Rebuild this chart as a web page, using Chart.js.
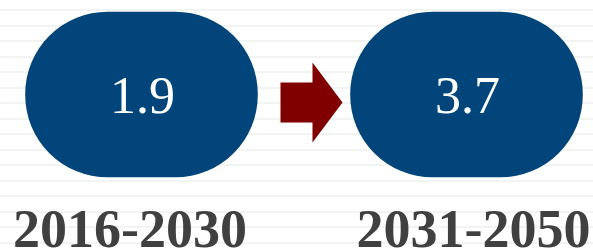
<!DOCTYPE html>
<html>
<head>
<meta charset="utf-8">
<script src="https://cdn.jsdelivr.net/npm/chart.js@4"></script>
<style>
  html, body { margin: 0; padding: 0; background: #ffffff; }
  canvas { display: block; }
</style>
</head>
<body>
<canvas id="growth" width="593" height="249"></canvas>
<script>
  // data
  const periods = ['2016-2030', '2031-2050']
  const rates = [1.9, 3.7]

  // pill extent on the (pixel-like, reversed) y scale
  const pillRange = [17.5, 182.5]
  // nudges for the period labels, relative to pill centres
  const labelShift = [-11.5, 7]

  const blue = '#02457a'
  const arrowRed = '#800000'

  const pillText = {
    id: 'pillText',
    afterDatasetsDraw(chart) {
      const ctx = chart.ctx
      const bars = chart.getDatasetMeta(0).data
      ctx.save()

      // arrow between the two pills
      const a = bars[0], b = bars[1]
      const gapL = a.x + a.width / 2
      const gapR = b.x - b.width / 2
      const midY = (a.y + a.base) / 2 + 8
      ctx.fillStyle = arrowRed
      ctx.beginPath()
      ctx.moveTo(gapL + 23, midY - 20)
      ctx.lineTo(gapL + 55, midY - 20)
      ctx.lineTo(gapL + 55, midY - 40)
      ctx.lineTo(gapR - 8, midY)
      ctx.lineTo(gapL + 55, midY + 40)
      ctx.lineTo(gapL + 55, midY + 20)
      ctx.lineTo(gapL + 23, midY + 20)
      ctx.closePath()
      ctx.fill()

      ctx.textAlign = 'center'
      ctx.textBaseline = 'alphabetic'
      bars.forEach((bar, i) => {
        ctx.fillStyle = '#ffffff'
        ctx.font = '52px "Liberation Serif"'
        ctx.fillText(rates[i].toFixed(1), bar.x + 1, (bar.y + bar.base) / 2 + 18.5)

        ctx.fillStyle = '#404040'
        ctx.font = 'bold 54px "Liberation Serif"'
        ctx.fillText(periods[i], bar.x + labelShift[i], chart.chartArea.bottom - 2)
      })
      ctx.restore()
    }
  }

  const growth = document.getElementById('growth')
  // eslint-disable-next-line no-unused-vars
  const growthChart = new Chart(growth, {
    type: 'bar',
    data: {
      datasets: [{
        data: periods.map((p, i) => ({ x: i, y: pillRange })),
        backgroundColor: blue,
        borderWidth: 0,
        borderSkipped: false,
        borderRadius: 200,
        barThickness: 232,
        clip: false
      }]
    },
    options: {
      responsive: false,
      animation: false,
      events: [],
      layout: { padding: 0 },
      plugins: {
        legend: { display: false },
        tooltip: { enabled: false }
      },
      scales: {
        x: {
          type: 'linear',
          display: false,
          offset: false,
          // puts index 0 at 141.5px and index 1 at 466.5px
          min: -141.5 / 325,
          max: (593 - 141.5) / 325
        },
        y: {
          reverse: true,
          min: 5.5,
          max: 254.5,
          border: { display: false },
          grid: {
            color: '#f2f4f2',
            lineWidth: 2,
            drawTicks: false
          },
          ticks: {
            display: false,
            stepSize: 15.5,
            includeBounds: false
          }
        }
      }
    },
    plugins: [pillText]
  });
</script>
</body>
</html>
